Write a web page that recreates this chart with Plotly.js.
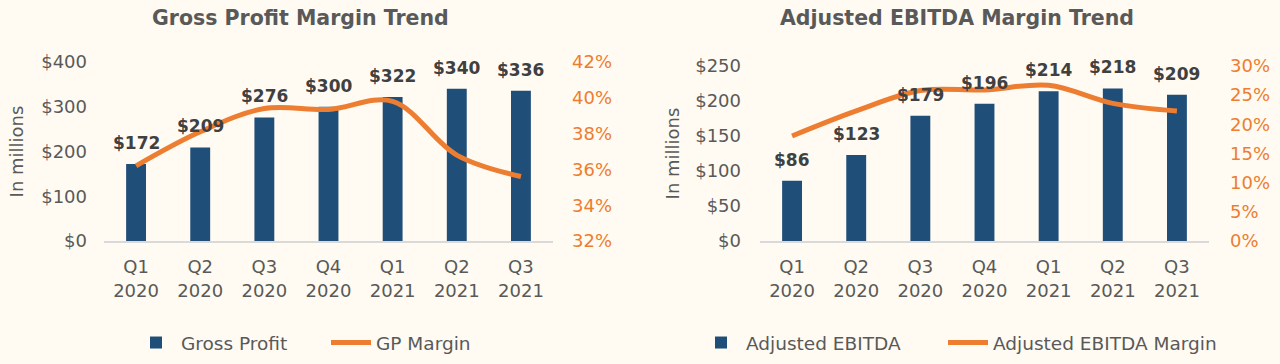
<!DOCTYPE html>
<html>
<head>
<meta charset="utf-8">
<script src="https://cdn.plot.ly/plotly-3.0.1.min.js"></script>
<style>
  html, body { margin: 0; padding: 0; background: #FFFBF2; }
  #chart { width: 1280px; height: 364px; }
</style>
</head>
<body>
<div id="chart"></div>
<script>
// ---- data ----
const quarters = ["Q1<br>2020", "Q2<br>2020", "Q3<br>2020", "Q4<br>2020", "Q1<br>2021", "Q2<br>2021", "Q3<br>2021"];
const grossProfit = [172, 209, 276, 300, 322, 340, 336];
const gpMargin = [36.2, 38.1, 39.4, 39.35, 39.8, 36.8, 35.6];
const adjEbitda = [86, 123, 179, 196, 214, 218, 209];
const ebitdaMargin = [18.0, 22.3, 25.8, 25.9, 26.7, 23.6, 22.3];
const leftTicks = [0, 100, 200, 300, 400];
const leftTickText = ["$0", "$100", "$200", "$300", "$400"];
const leftPctTicks = [32, 34, 36, 38, 40, 42];
const leftPctText = ["32%", "34%", "36%", "38%", "40%", "42%"];
const rightTicks = [0, 50, 100, 150, 200, 250];
const rightTickText = ["$0", "$50", "$100", "$150", "$200", "$250"];
const rightPctTicks = [0, 5, 10, 15, 20, 25, 30];
const rightPctText = ["0%", "5%", "10%", "15%", "20%", "25%", "30%"];

// ---- styles ----
const FONT = "DejaVu Sans, sans-serif";
const BAR = "#1F4E79";
const ORANGE = "#ED7D31";
const GRAY = "#595959";
const DARK = "#404040";
const BG = "#FFFBF2";

const traces = [
  { type: "bar", x: quarters, y: grossProfit, xaxis: "x", yaxis: "y", name: "Gross Profit",
    marker: { color: BAR }, legend: "legend" },
  { type: "scatter", mode: "lines", x: quarters, y: gpMargin, xaxis: "x", yaxis: "y2", name: "GP Margin",
    line: { color: ORANGE, width: 5, shape: "spline", smoothing: 1 }, legend: "legend2" },
  { type: "bar", x: quarters, y: adjEbitda, xaxis: "x2", yaxis: "y3", name: "Adjusted EBITDA",
    marker: { color: BAR }, legend: "legend3" },
  { type: "scatter", mode: "lines", x: quarters, y: ebitdaMargin, xaxis: "x2", yaxis: "y4", name: "Adjusted EBITDA Margin",
    line: { color: ORANGE, width: 5, shape: "spline", smoothing: 1 }, legend: "legend4" }
];

const labelFont = { family: FONT, size: 17, color: DARK, weight: "bold" };
const annotations = [];
grossProfit.forEach((v, i) => annotations.push({
  xref: "x", yref: "y", x: quarters[i], y: v, text: "$" + v, showarrow: false,
  yanchor: "middle", yshift: 21, font: labelFont
}));
adjEbitda.forEach((v, i) => annotations.push({
  xref: "x2", yref: "y3", x: quarters[i], y: v, text: "$" + v, showarrow: false,
  yanchor: "middle", yshift: 21, font: labelFont
}));
annotations.push({ xref: "paper", yref: "paper", x: 300 / 1280, y: 1 - 18 / 364, text: "<b>Gross Profit Margin Trend</b>",
  showarrow: false, xanchor: "center", yanchor: "middle", font: { family: FONT, size: 20.5, color: GRAY } });
annotations.push({ xref: "paper", yref: "paper", x: 957 / 1280, y: 1 - 18 / 364, text: "<b>Adjusted EBITDA Margin Trend</b>",
  showarrow: false, xanchor: "center", yanchor: "middle", font: { family: FONT, size: 20.5, color: GRAY } });

const tickFont = { family: FONT, size: 18, color: GRAY };
const pctFont = { family: FONT, size: 18, color: ORANGE };
const titleFont = { family: FONT, size: 18, color: GRAY };

const xBase = {
  type: "category", showgrid: false, zeroline: false, showline: true, linecolor: "#D9D9D9", linewidth: 1.5,
  ticks: "", tickfont: tickFont, ticklabelstandoff: 9, fixedrange: true
};

const legendBase = { orientation: "h", xanchor: "left", yanchor: "middle", y: 1 - 343 / 364,
  font: { family: FONT, size: 18.5, color: GRAY }, bgcolor: "rgba(0,0,0,0)", itemwidth: 40 };

const layout = {
  width: 1280, height: 364,
  paper_bgcolor: BG, plot_bgcolor: BG,
  margin: { l: 0, r: 0, t: 0, b: 0 },
  font: { family: FONT, color: GRAY },
  bargap: 0.69,
  showlegend: true,
  xaxis: Object.assign({}, xBase, { domain: [104 / 1280, 553 / 1280], anchor: "y" }),
  yaxis: { domain: [1 - 241 / 364, 1 - 62 / 364], anchor: "x", range: [0, 400], tickvals: leftTicks, ticktext: leftTickText,
    showgrid: false, zeroline: false, showline: false, ticks: "", tickfont: tickFont, ticklabelstandoff: 16,
    title: { text: "In millions", font: titleFont, standoff: 12 } },
  yaxis2: { overlaying: "y", side: "right", anchor: "x", range: [32, 42], tickvals: leftPctTicks, ticktext: leftPctText,
    showgrid: false, zeroline: false, showline: false, ticks: "", tickfont: pctFont, ticklabelstandoff: 18 },
  xaxis2: Object.assign({}, xBase, { domain: [760 / 1280, 1209 / 1280], anchor: "y3" }),
  yaxis3: { domain: [1 - 241 / 364, 1 - 66 / 364], anchor: "x2", range: [0, 250], tickvals: rightTicks, ticktext: rightTickText,
    showgrid: false, zeroline: false, showline: false, ticks: "", tickfont: tickFont, ticklabelstandoff: 18,
    title: { text: "In millions", font: titleFont, standoff: 10 } },
  yaxis4: { overlaying: "y3", side: "right", anchor: "x2", range: [0, 30], tickvals: rightPctTicks, ticktext: rightPctText,
    showgrid: false, zeroline: false, showline: false, ticks: "", tickfont: pctFont, ticklabelstandoff: 20 },
  legend: Object.assign({}, legendBase, { x: 131 / 1280 }),
  legend2: Object.assign({}, legendBase, { x: 326 / 1280 }),
  legend3: Object.assign({}, legendBase, { x: 696 / 1280 }),
  legend4: Object.assign({}, legendBase, { x: 943 / 1280 }),
  annotations: annotations
};

Plotly.newPlot("chart", traces, layout, { displayModeBar: false, staticPlot: true });
</script>
</body>
</html>
